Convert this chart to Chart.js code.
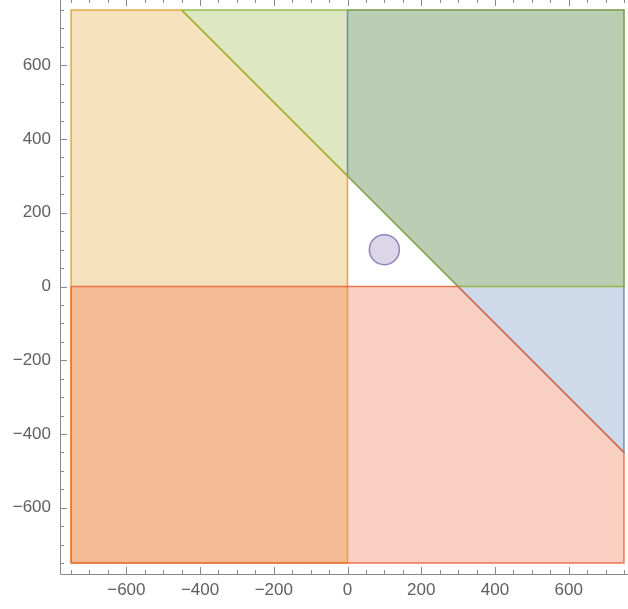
<!DOCTYPE html>
<html><head><meta charset="utf-8">
<script src="https://cdn.jsdelivr.net/npm/chart.js@4"></script>
<style>
html,body{margin:0;padding:0;overflow:hidden;background:#fff;width:628px;height:609px}
#clip{position:fixed;left:0;top:0;width:628px;height:609px;overflow:hidden}
#c{position:absolute;left:0;top:-4px}
</style>
</head><body><div id="clip"><canvas id="c" width="640" height="620"></canvas></div>
<script>
// ---- data ----
const axisMin = -780, axisMax = 780;
const majorTicks = [-600, -400, -200, 0, 200, 400, 600];
const minorTicks = [-750,-700,-650,-550,-500,-450,-350,-300,-250,-150,-100,-50,50,100,150,250,300,350,450,500,550,650,700,750];
// region vertices (x, y)
const regionOrangeX = [-750, -750, -450, 0, 0];
const regionOrangeY = [-750, 750, 750, 300, -750];
const regionBlueX = [0, 0, 750, 750];
const regionBlueY = [300, 750, 750, -450];
const regionGreenX = [-450, 750, 750, 300];
const regionGreenY = [750, 750, 0, 0];
const regionRedX = [-750, 300, 750, 750, -750];
const regionRedY = [0, 0, -450, -750, -750];
const circleCenter = [100, 100];

// ---- helpers ----
function poly(xs, ys){
  const pts = xs.map((x,i)=>({x:x, y:ys[i]}));
  pts.push({x:xs[0], y:ys[0]});
  return pts;
}
function regionFill(label, xs, ys, rgb, order){
  return {
    label, data: poly(xs, ys), showLine:true, fill:'shape', tension:0,
    backgroundColor:`rgba(${rgb},0.3)`, borderColor:'rgba(0,0,0,0)',
    borderWidth:0, pointRadius:0, pointHoverRadius:0, order
  };
}
function regionEdge(label, xs, ys, rgb, order){
  return {
    label, data: poly(xs, ys), showLine:true, fill:false, tension:0,
    borderColor:`rgba(${rgb},0.85)`, borderWidth:1.5,
    pointRadius:0, pointHoverRadius:0, order
  };
}
const fmt = v => v < 0 ? '\u2212' + Math.abs(v) : String(v);

const frameTicks = {
  id:'frameTicks',
  afterDraw(chart){
    const {ctx, chartArea:a, scales:{x, y}} = chart;
    ctx.save();
    ctx.strokeStyle = '#8a8a8a';
    ctx.lineWidth = 1;
    ctx.beginPath();
    ctx.rect(Math.round(a.left)+0.5, Math.round(a.top)+0.5, Math.round(a.right-a.left), Math.round(a.bottom-a.top));
    ctx.stroke();
    const all = majorTicks.map(v=>[v,7]).concat(minorTicks.map(v=>[v,4]));
    ctx.beginPath();
    for (const [v,len] of all){
      const px = Math.round(x.getPixelForValue(v))+0.5;
      ctx.moveTo(px, a.bottom); ctx.lineTo(px, a.bottom-len);
      ctx.moveTo(px, a.top); ctx.lineTo(px, a.top+len);
      const py = Math.round(y.getPixelForValue(v))+0.5;
      ctx.moveTo(a.left, py); ctx.lineTo(a.left+len, py);
      ctx.moveTo(a.right, py); ctx.lineTo(a.right-len, py);
    }
    ctx.stroke();
    ctx.restore();
  }
};

const tickFont = {family:'"Liberation Sans", Arial, sans-serif', size:17};
function noPad(s){ s.paddingTop = 0; s.paddingBottom = 0; s.paddingLeft = 0; s.paddingRight = 0; }

const O = '225,156,36', B = '94,129,181', G = '143,176,50', R = '235,98,53';

new Chart(document.getElementById('c'), {
  type:'line',
  data:{
    datasets:[
      regionFill('x ≤ 0, x + y ≤ 300', regionOrangeX, regionOrangeY, O, 14),
      regionFill('x ≥ 0, x + y ≥ 300', regionBlueX, regionBlueY, B, 13),
      regionFill('y ≥ 0, x + y ≥ 300', regionGreenX, regionGreenY, G, 12),
      regionFill('y ≤ 0, x + y ≤ 300', regionRedX, regionRedY, R, 11),
      regionEdge('edge 1', regionOrangeX, regionOrangeY, O, 4),
      regionEdge('edge 2', regionBlueX, regionBlueY, B, 3),
      regionEdge('edge 3', regionGreenX, regionGreenY, G, 2),
      regionEdge('edge 4', regionRedX, regionRedY, R, 1),
      {
        label:'circle', data:[{x:circleCenter[0], y:circleCenter[1]}], showLine:false,
        pointRadius:15, pointHoverRadius:15,
        pointBackgroundColor:'rgba(135,120,179,0.3)', pointBorderColor:'rgba(135,120,179,0.9)',
        pointBorderWidth:1.5, order:0
      }
    ]
  },
  options:{
    responsive:false, animation:false, devicePixelRatio:1,
    layout:{autoPadding:false, padding:{top:3, right:5, left:0, bottom:0}},
    plugins:{legend:{display:false}, tooltip:{enabled:false}},
    events:[],
    scales:{
      x:{
        type:'linear', min:axisMin, max:axisMax,
        grid:{display:false, drawTicks:false}, border:{display:false},
        afterBuildTicks(s){ s.ticks = majorTicks.map(v=>({value:v})); },
        afterFit(s){ s.height = 42; noPad(s); },
        ticks:{callback:fmt, color:'#5f5f5f', font:tickFont, padding:6, maxRotation:0, autoSkip:false}
      },
      y:{
        type:'linear', min:axisMin, max:axisMax,
        grid:{display:false, drawTicks:false}, border:{display:false},
        afterBuildTicks(s){ s.ticks = majorTicks.map(v=>({value:v})); },
        afterFit(s){ s.width = 60; noPad(s); },
        ticks:{callback:fmt, color:'#5f5f5f', font:tickFont, padding:9, autoSkip:false}
      }
    }
  },
  plugins:[frameTicks]
});
</script>
</body></html>
